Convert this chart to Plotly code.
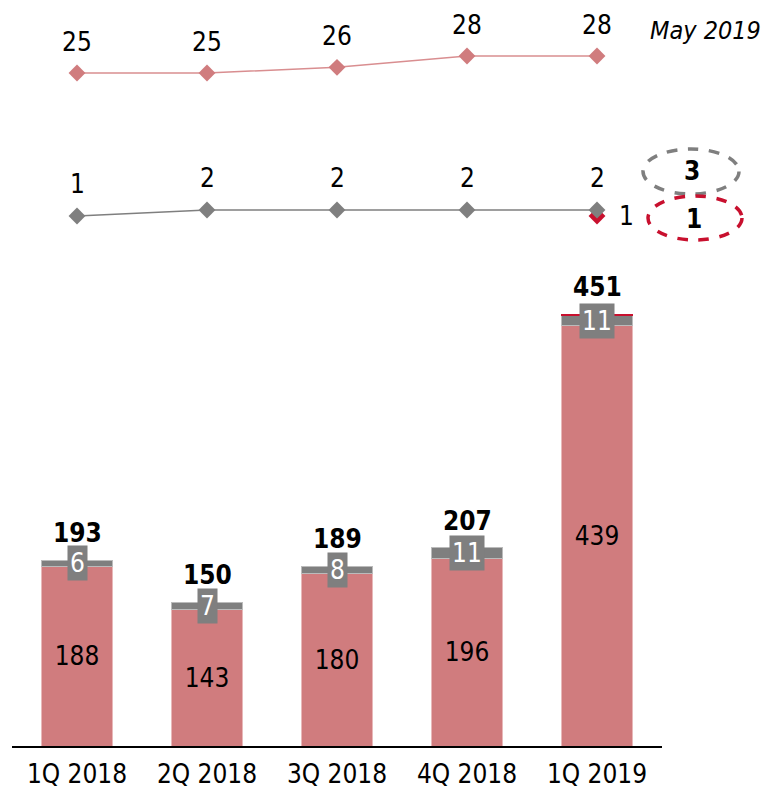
import plotly.graph_objects as go

# %% data
quarters = ['1Q 2018', '2Q 2018', '3Q 2018', '4Q 2018', '1Q 2019']
pink_vals = [188, 143, 180, 196, 439]
grey_vals = [6, 7, 8, 11, 11]
red_vals = [0, 0, 0, 0, 1]
totals = [193, 150, 189, 207, 451]

pink_line = [25, 25, 26, 28, 28]
grey_line = [1, 2, 2, 2, 2]
red_point = [None, None, None, None, 1]

grey_circle_label = '3'
red_circle_label = '1'
period_label = 'May 2019'

PINK = '#D07C7E'
PINK_LINE = '#D98E90'
GREY = '#7F7F7F'
RED = '#C8102E'
FONT = 'DejaVu Sans Condensed, Liberation Sans Narrow, sans-serif'

W, H = 767, 788


def px(x):
    return x / W


def py(y):
    return 1 - y / H


def y_range(v0, p0, s):
    # value v0 sits at pixel row p0, s pixels per unit
    return [v0 - (H - p0) / s, v0 + p0 / s]


x_idx = list(range(len(quarters)))
fig = go.Figure()

# %% stacked bars
fig.add_trace(go.Bar(x=x_idx, y=pink_vals, marker_color=PINK, width=0.55,
                     marker_line=dict(color='#E8B8B9', width=1),
                     text=[str(v) for v in pink_vals], textposition='inside',
                     insidetextanchor='middle',
                     textfont=dict(family=FONT, size=26, color='black')))
fig.add_trace(go.Bar(x=x_idx, y=grey_vals, marker_color=GREY, width=0.55,
                     marker_line=dict(color='#BBBBBB', width=1)))
fig.add_trace(go.Bar(x=x_idx, y=red_vals, marker_color=RED, width=0.55,
                     marker_line_width=0))

# %% lines on top
fig.add_trace(go.Scatter(x=x_idx, y=pink_line, yaxis='y2', mode='lines+markers',
                         line=dict(color=PINK_LINE, width=1.5),
                         marker=dict(symbol='diamond', size=13, color=PINK)))
fig.add_trace(go.Scatter(x=x_idx, y=red_point, yaxis='y3', mode='markers',
                         marker=dict(symbol='diamond', size=13, color=RED)))
fig.add_trace(go.Scatter(x=x_idx, y=grey_line, yaxis='y3', mode='lines+markers',
                         line=dict(color=GREY, width=1.5),
                         marker=dict(symbol='diamond', size=13, color=GREY)))

ann = []
for i in x_idx:
    ann.append(dict(x=i, y=pink_line[i], yref='y2', text=str(pink_line[i]), showarrow=False,
                    yshift=31, font=dict(family=FONT, size=26, color='black')))
    ann.append(dict(x=i, y=grey_line[i], yref='y3', text=str(grey_line[i]), showarrow=False,
                    yshift=32, font=dict(family=FONT, size=26, color='black')))
    ann.append(dict(x=i, y=pink_vals[i] + grey_vals[i] / 2, yref='y', text=str(grey_vals[i]),
                    showarrow=False, bgcolor=GREY, borderpad=2,
                    font=dict(family=FONT, size=26, color='white')))
    ann.append(dict(x=i, y=pink_vals[i] + grey_vals[i] + red_vals[i], yref='y',
                    text='<b>%d</b>' % totals[i], showarrow=False, yshift=27,
                    font=dict(family=FONT, size=26, color='black')))

ann.append(dict(x=4, y=red_point[4], yref='y3', text='1', showarrow=False, xshift=29,
                font=dict(family=FONT, size=26, color='black')))
ann.append(dict(x=px(705), y=py(30), xref='paper', yref='paper', text='<i>%s</i>' % period_label,
                xanchor='center', yanchor='middle', showarrow=False,
                font=dict(family=FONT, size=25, color='black')))
ann.append(dict(x=px(692), y=py(171), xref='paper', yref='paper', text='<b>%s</b>' % grey_circle_label,
                xanchor='center', yanchor='middle', showarrow=False,
                font=dict(family=FONT, size=26, color='black')))
ann.append(dict(x=px(694), y=py(219), xref='paper', yref='paper', text='<b>%s</b>' % red_circle_label,
                xanchor='center', yanchor='middle', showarrow=False,
                font=dict(family=FONT, size=26, color='black')))

shapes = [
    dict(type='circle', xref='paper', yref='paper', x0=px(643), x1=px(739),
         y0=py(194), y1=py(149), line=dict(color=GREY, width=3.5, dash='dash')),
    dict(type='circle', xref='paper', yref='paper', x0=px(648), x1=px(742),
         y0=py(240), y1=py(196), line=dict(color=RED, width=3.5, dash='dash')),
]

fig.update_layout(
    width=W, height=H, barmode='stack', showlegend=False,
    margin=dict(l=0, r=0, t=0, b=0),
    paper_bgcolor='white', plot_bgcolor='rgba(0,0,0,0)',
    annotations=ann, shapes=shapes,
    xaxis=dict(domain=[px(12), px(662)], range=[-0.5, 4.5], tickmode='array',
               tickvals=x_idx, ticktext=quarters, showgrid=False, zeroline=False,
               showline=True, linecolor='black', linewidth=1.5, ticks='',
               ticklabelstandoff=4,
               tickfont=dict(family=FONT, size=26, color='black'), automargin=False),
    yaxis=dict(domain=[py(746), py(280)], range=[0, 466 / 0.957], visible=False, fixedrange=True),
    yaxis2=dict(domain=[0, 1], anchor='x', range=y_range(25, 73, 5.67), visible=False),
    yaxis3=dict(domain=[0, 1], anchor='x', range=y_range(1, 216, 6.0), visible=False),
)

# the page body has an 8px margin by default; drop it so the figure fills the window
fig.write_html("out.html", config={'displayModeBar': False},
               post_script="document.body.style.margin='0';")
